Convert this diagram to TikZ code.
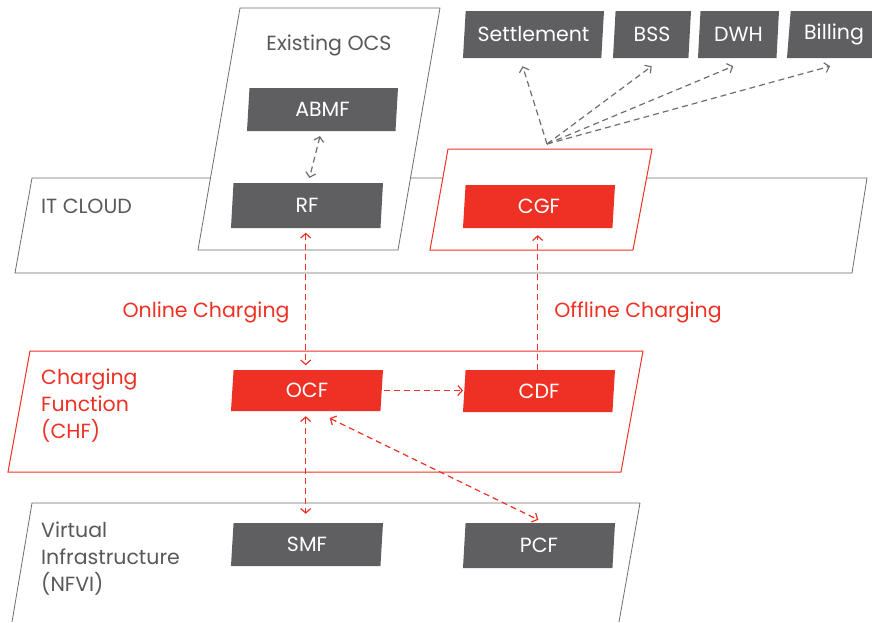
\documentclass[tikz,border=0pt]{standalone}
\usepackage{fontspec}
\setmainfont{Poppins}
\usetikzlibrary{shapes.geometric, positioning, arrows.meta}
\definecolor{chred}{HTML}{EE3124}
\definecolor{boxgray}{HTML}{5F5F61}
\definecolor{txtgray}{HTML}{58595B}
\definecolor{linegray}{HTML}{6D6E71}
\tikzset{
  slant/.style={trapezium, trapezium stretches body=true, trapezium left angle=80, trapezium right angle=99.9, inner sep=0pt},
  fbox/.style={slant, fill=boxgray, text=white, minimum width=152pt, minimum height=43pt, font=\fontsize{20.5}{24}\selectfont},
  redbox/.style={fbox, fill=chred},
  zone/.style={draw=linegray, fill=white, line width=0.8pt},
  redzone/.style={zone, draw=chred, line width=1pt},
  lbl/.style={font=\fontsize{20.5}{27}\selectfont, text=txtgray, align=left, inner sep=0pt},
  link/.style={dash pattern=on 6pt off 4pt, line width=1.2pt, draw=linegray, >={Straight Barb[length=4.5pt,width=10pt]}},
  redlink/.style={link, draw=chred},
}
\begin{document}
\begin{tikzpicture}[x=1pt, y=-1pt]
\useasboundingbox (0,0) rectangle (872,622);
\draw[zone] (32,178) -- (867,178) -- (852,273) -- (15,273) -- cycle;
\draw[zone] (240,8) -- (440,8) -- (398,250) -- (198,250) -- cycle;
\draw[redzone] (448,149) -- (652,149) -- (633,250) -- (430,250) -- cycle;
\draw[redzone] (30,351) -- (643,351) -- (621,472) -- (8,472) -- cycle;
\draw[zone] (12,622) -- (32,503) -- (640,503) -- (619,622);

\node[lbl, anchor=west] (itlbl) at (41,206) {IT CLOUD};
\node[lbl, anchor=base] (ocslbl) at (329,50) {Existing OCS};
\node[lbl, text=chred, anchor=north west] (chflbl) at (41,369) {Charging\\Function\\(CHF)};
\node[lbl, anchor=north west] (nfvilbl) at (41,522) {Virtual\\Infrastructure\\(NFVI)};
\node[lbl, text=chred, anchor=base] (onlbl) at (206,317) {Online Charging};
\node[lbl, text=chred, anchor=base] (offlbl) at (638,317) {Offline Charging};

\foreach \n/\t/\x/\w in {settle/Settlement/533.5/141, bss/BSS/652/78, dwh/DWH/738.5/81, bill/Billing/834/94}
  \node[fbox, minimum width=\w pt, minimum height=47pt] (\n) at (\x,34.5) {\t};
\node[fbox, minimum width=151pt] (abmf) at (322.5,109.5) {ABMF};
\node[fbox, minimum height=45pt] (rf) at (307,205.5) {RF};
\node[redbox] (cgf) at (539,206.5) {CGF};
\node[redbox, minimum height=41pt] (ocf) at (307,390.5) {OCF};
\node[redbox, minimum height=42pt] (cdf) at (539,391) {CDF};
\node[fbox] (smf) at (307,544.5) {SMF};
\node[fbox, minimum height=45pt] (pcf) at (539,545.5) {PCF};

\coordinate (fan) at (547,144);
\foreach \n/\dx in {settle/-9.5, bss/1, dwh/-4, bill/-2}
  \draw[link, ->] (fan) -- ([xshift=\dx pt, yshift=-8pt]\n.bottom side);
\draw[link, <->, shorten <=5pt, shorten >=5pt] (abmf.bottom side) -- (rf.top side);
\draw[redlink, <->, shorten <=4.5pt, shorten >=4.5pt] (rf.bottom side) -- (rf.bottom side |- ocf.top side);
\draw[redlink, ->, shorten >=7pt] (cgf.bottom side |- cdf.top side) -- (cgf.bottom side);
\draw[redlink, ->, shorten <=2pt, shorten >=1pt] (ocf.right side) -- (ocf.right side -| cdf.left side);
\draw[redlink, <->, shorten <=5pt, shorten >=9pt] (ocf.bottom side) -- (ocf.bottom side |- smf.top side);
\draw[redlink, <->] ([xshift=24pt, yshift=-7pt]ocf.bottom side) -- ([xshift=-2pt, yshift=3pt]pcf.top side);
\end{tikzpicture}
\end{document}
